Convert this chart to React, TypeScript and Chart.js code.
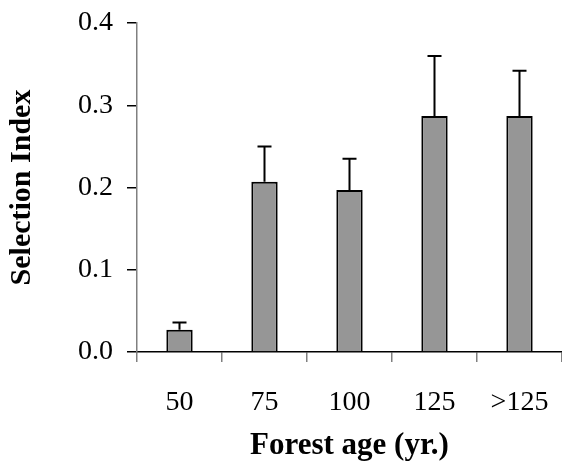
import React, { useEffect, useRef } from "react";
import { Chart, registerables } from "chart.js";

Chart.register(...registerables);

const categories = ["50", "75", "100", "125", ">125"];
const selectionIndex = [0.027, 0.207, 0.197, 0.287, 0.287];
const errorTop = [0.036, 0.25, 0.235, 0.36, 0.342];
const yTicks = [0, 0.1, 0.2, 0.3, 0.4];

const FONT = "'Liberation Serif', 'Times New Roman', serif";

const errorBarPlugin = {
  id: "errorBars",
  afterDatasetsDraw(chart: any) {
    const meta = chart.getDatasetMeta(0);
    const yScale = chart.scales.y;
    const ctx = chart.ctx;
    ctx.save();
    ctx.strokeStyle = "#000";
    ctx.lineWidth = 2;
    meta.data.forEach((bar: any, i: number) => {
      const x = bar.x;
      const y0 = yScale.getPixelForValue(selectionIndex[i]);
      const y1 = yScale.getPixelForValue(errorTop[i]);
      ctx.beginPath();
      ctx.moveTo(x, y0);
      ctx.lineTo(x, y1);
      ctx.moveTo(x - 7, y1);
      ctx.lineTo(x + 7, y1);
      ctx.stroke();
    });
    ctx.restore();
  },
};

function zeroPadding(scale: any) {
  scale.paddingTop = 0;
  scale.paddingBottom = 0;
  scale.paddingLeft = 0;
  scale.paddingRight = 0;
}

export default function App() {
  const ref = useRef<HTMLCanvasElement>(null);
  useEffect(() => {
    document.body.style.margin = "0";
    const chart = new Chart(ref.current!, {
      type: "bar",
      data: {
        labels: categories,
        datasets: [
          {
            data: selectionIndex,
            backgroundColor: "#969696",
            borderColor: "#000",
            borderWidth: 2,
            barPercentage: 0.31,
            categoryPercentage: 1,
          },
        ],
      },
      options: {
        animation: false,
        responsive: false,
        maintainAspectRatio: false,
        layout: { padding: { top: 23, right: 0, left: 0, bottom: 0 } },
        plugins: { legend: { display: false }, tooltip: { enabled: false } },
        scales: {
          x: {
            grid: {
              drawOnChartArea: false,
              drawTicks: true,
              tickLength: 10,
              tickColor: "#808080",
              lineWidth: 1.5,
            },
            border: { display: true, color: "#000", width: 1.5 },
            ticks: { color: "#000", font: { family: FONT, size: 28 }, padding: 24 },
            title: {
              display: true,
              text: "Forest age (yr.)",
              color: "#000",
              font: { family: FONT, size: 31, weight: "bold", lineHeight: 1 },
              padding: { top: 0, bottom: 0 },
            },
            afterFit(scale: any) {
              scale.height = 109;
              zeroPadding(scale);
            },
          },
          y: {
            min: 0,
            max: 0.4,
            afterBuildTicks(scale: any) {
              scale.ticks = yTicks.map((v) => ({ value: v }));
            },
            grid: {
              drawOnChartArea: false,
              drawTicks: true,
              tickLength: 10,
              tickColor: "#000",
              lineWidth: 1.5,
            },
            border: { display: true, color: "#808080", width: 1.5 },
            ticks: {
              color: "#000",
              font: { family: FONT, size: 28 },
              padding: 14,
              callback: (v: any) => Number(v).toFixed(1),
            },
            title: {
              display: true,
              text: "Selection Index",
              color: "#000",
              font: { family: FONT, size: 30, weight: "bold", lineHeight: 1 },
              padding: { top: 7, bottom: 0 },
            },
            afterFit(scale: any) {
              scale.width = 137;
              zeroPadding(scale);
            },
          },
        },
      },
      plugins: [errorBarPlugin],
    });
    return () => chart.destroy();
  }, []);
  return <canvas ref={ref} width={562} height={461} style={{ display: "block" }} />;
}
